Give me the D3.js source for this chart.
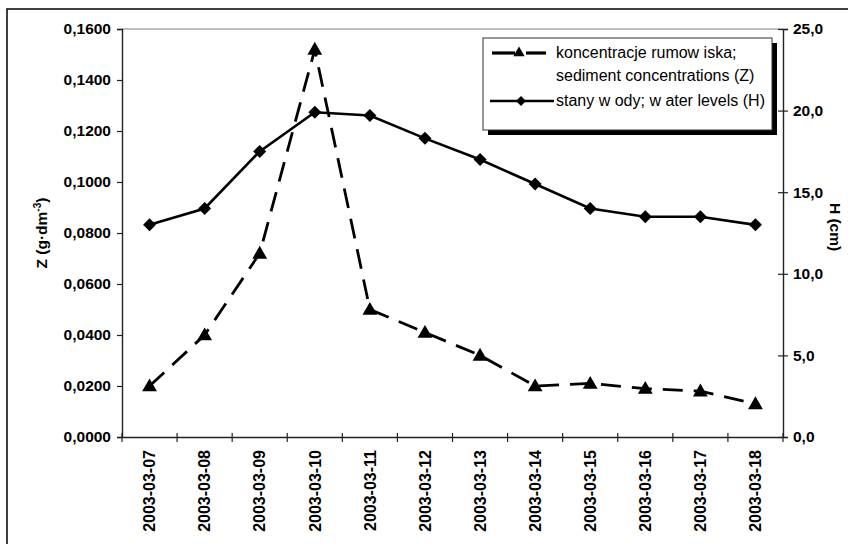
<!DOCTYPE html>
<html>
<head>
<meta charset="utf-8">
<script src="https://cdn.jsdelivr.net/npm/d3@7"></script>
<style>
  html, body { margin: 0; padding: 0; background: #fff; }
  svg { display: block; font-family: "Liberation Sans", Arial, sans-serif; }
  .tick-lbl { font-size: 15.5px; font-weight: bold; fill: #000; }
  .leg-lbl { font-size: 16px; fill: #000; }
</style>
</head>
<body>
<svg id="chart" width="848" height="544"></svg>
<script>
// data
const dates = ['2003-03-07', '2003-03-08', '2003-03-09', '2003-03-10', '2003-03-11', '2003-03-12',
  '2003-03-13', '2003-03-14', '2003-03-15', '2003-03-16', '2003-03-17', '2003-03-18'];
const sediment = [0.020, 0.040, 0.072, 0.152, 0.050, 0.041, 0.032, 0.020, 0.021, 0.019, 0.018, 0.013];
const water = [13.0, 14.0, 17.5, 19.9, 19.7, 18.3, 17.0, 15.5, 14.0, 13.5, 13.5, 13.0];
const zTicks = [0, 0.02, 0.04, 0.06, 0.08, 0.1, 0.12, 0.14, 0.16];
const hTicks = [0, 5, 10, 15, 20, 25];
const legendLabels = [['koncentracje rumow iska;', 'sediment concentrations (Z)'], ['stany w ody; w ater levels (H)']];

const svg = d3.select('#chart');
const L = 122, R = 783, T = 29, B = 437;

const x = d3.scaleBand().domain(dates).range([L, R]).padding(0);
const yZ = d3.scaleLinear().domain([0, 0.16]).range([B, T]);
const yH = d3.scaleLinear().domain([0, 25]).range([B, T]);
const cx = (d) => x(d) + x.bandwidth() / 2;
const fmtZ = (v) => d3.format('.4f')(v).replace('.', ',');
const fmtH = (v) => d3.format('.1f')(v).replace('.', ',');

// outer chart frame (runs past the right and bottom edge)
svg.append('rect').attr('x', 7).attr('y', 9).attr('width', 860).attr('height', 560)
  .attr('fill', 'none').attr('stroke', '#000').attr('stroke-width', 1.5);

// plot area top border
svg.append('line').attr('x1', L).attr('x2', R).attr('y1', T).attr('y2', T)
  .attr('stroke', '#808080').attr('stroke-width', 1.2);

// left axis
const gl = svg.append('g').attr('transform', `translate(${L},0)`)
  .call(d3.axisLeft(yZ).tickValues(zTicks).tickFormat(fmtZ).tickSizeOuter(0).tickSize(5).tickPadding(6));
// right axis
const gr = svg.append('g').attr('transform', `translate(${R},0)`)
  .call(d3.axisRight(yH).tickValues(hTicks).tickFormat(fmtH).tickSizeOuter(0).tickSize(5).tickPadding(5));
gr.selectAll('.tick line').attr('x1', -5);
// bottom axis: labels at band centres, ticks at band edges
const gb = svg.append('g').attr('transform', `translate(0,${B})`)
  .call(d3.axisBottom(x).tickSize(0).tickSizeOuter(0).tickPadding(0));
[gl, gr, gb].forEach((g) => {
  g.select('.domain').attr('stroke', '#222').attr('stroke-width', 1.4);
  g.selectAll('.tick line').attr('stroke', '#222').attr('stroke-width', 1.2);
  g.selectAll('.tick text').attr('class', 'tick-lbl').attr('font-size', null).attr('font-family', null);
});
gb.selectAll('.tick text')
  .style('font-size', '16px')
  .attr('text-anchor', 'end').attr('transform', 'rotate(-90)')
  .attr('x', -13).attr('y', 0).attr('dy', '0.36em');
d3.range(dates.length + 1).forEach((i) => {
  const px = L + i * x.step();
  svg.append('line').attr('x1', px).attr('x2', px).attr('y1', B - 4).attr('y2', B + 5)
    .attr('stroke', '#222').attr('stroke-width', 1.2);
});

// axis titles
const zt = svg.append('text').attr('class', 'tick-lbl')
  .attr('transform', `translate(47,${(T + B) / 2}) rotate(-90)`).attr('text-anchor', 'middle');
zt.append('tspan').text('Z (g·dm');
zt.append('tspan').attr('font-size', '10px').attr('baseline-shift', '6').text('-3');
zt.append('tspan').text(')');
svg.append('text').attr('class', 'tick-lbl')
  .attr('transform', `translate(830,${(T + B) / 2 - 6}) rotate(90)`).attr('text-anchor', 'middle')
  .text('H (cm)');

// series
const tri = d3.symbol().type(d3.symbolTriangle).size(95);
const dia = (s) => `M0,${-s}L${s},0L0,${s}L${-s},0Z`;

svg.append('path').datum(water)
  .attr('fill', 'none').attr('stroke', '#000').attr('stroke-width', 2.6)
  .attr('d', d3.line().x((d, i) => cx(dates[i])).y((d) => yH(d)));
svg.append('path').datum(sediment)
  .attr('fill', 'none').attr('stroke', '#000').attr('stroke-width', 2.8)
  .attr('stroke-dasharray', '20,11')
  .attr('d', d3.line().x((d, i) => cx(dates[i])).y((d) => yZ(d)));

svg.append('g').selectAll('path').data(water).join('path')
  .attr('transform', (d, i) => `translate(${cx(dates[i])},${yH(d)})`)
  .attr('d', dia(6.5)).attr('fill', '#000');
svg.append('g').selectAll('path').data(sediment).join('path')
  .attr('transform', (d, i) => `translate(${cx(dates[i])},${yZ(d) + 1})`)
  .attr('d', tri).attr('fill', '#000');

// legend
const lg = svg.append('g');
lg.append('rect').attr('x', 488).attr('y', 43).attr('width', 289).attr('height', 92).attr('fill', '#000');
lg.append('rect').attr('x', 483).attr('y', 38).attr('width', 289).attr('height', 92)
  .attr('fill', '#fff').attr('stroke', '#333').attr('stroke-width', 1);
lg.append('line').attr('x1', 492).attr('x2', 515).attr('y1', 53).attr('y2', 53)
  .attr('stroke', '#000').attr('stroke-width', 3.2);
lg.append('line').attr('x1', 526).attr('x2', 546).attr('y1', 53).attr('y2', 53)
  .attr('stroke', '#000').attr('stroke-width', 3.2);
lg.append('path').attr('transform', 'translate(519,53)')
  .attr('d', d3.symbol().type(d3.symbolTriangle).size(55)).attr('fill', '#000');
lg.append('line').attr('x1', 490).attr('x2', 554).attr('y1', 101).attr('y2', 101)
  .attr('stroke', '#000').attr('stroke-width', 2.4);
lg.append('path').attr('transform', 'translate(521,101)').attr('d', dia(5)).attr('fill', '#000');
lg.append('text').attr('class', 'leg-lbl').attr('x', 556).attr('y', 58).text(legendLabels[0][0]);
lg.append('text').attr('class', 'leg-lbl').attr('x', 556).attr('y', 81).text(legendLabels[0][1]);
lg.append('text').attr('class', 'leg-lbl').attr('x', 556).attr('y', 106).text(legendLabels[1][0]);
</script>
</body>
</html>
